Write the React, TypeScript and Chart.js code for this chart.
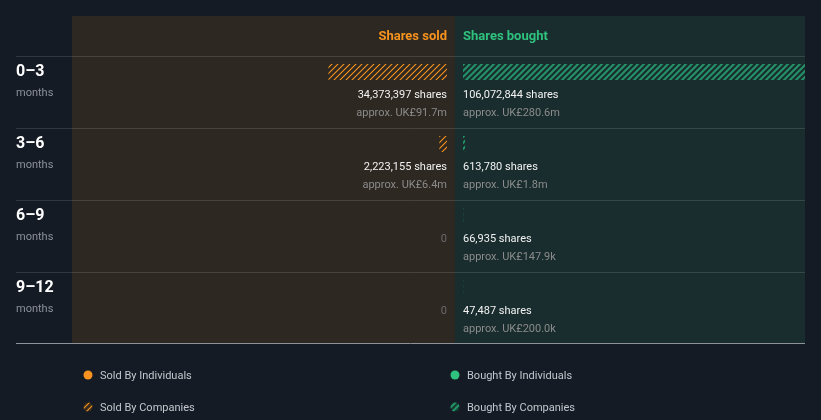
import React, { useEffect, useRef } from 'react';
import { Chart, registerables } from 'chart.js';

Chart.register(...registerables);

// ---- data ----
const periods = ['0–3', '3–6', '6–9', '9–12'];
const periodUnit = 'months';
const soldByIndividuals = [0, 0, 0, 0];
const soldByCompanies = [34373397, 2223155, 0, 0];
const boughtByIndividuals = [0, 0, 0, 0];
const boughtByCompanies = [106072844, 613780, 66935, 47487];
const soldValueGBP = [91.7e6, 6.4e6, 0, 0];
const boughtValueGBP = [280.6e6, 1.8e6, 147.9e3, 200.0e3];
const headerSold = 'Shares sold';
const headerBought = 'Shares bought';
const legendSoldInd = 'Sold By Individuals';
const legendSoldCo = 'Sold By Companies';
const legendBoughtInd = 'Bought By Individuals';
const legendBoughtCo = 'Bought By Companies';

// ---- style ----
const BG = '#151b25';
const SOLD_PANEL = '#2d2822';
const BOUGHT_PANEL = '#1a2d2e';
const ORANGE = '#f7931e';
const GREEN = '#2ec27e';
const GREEN_HATCH = '#239468';
const FONT = 'Roboto, "Noto Sans", sans-serif';

const LEFT_W = 383; // sold panel width
const RIGHT_W = 350; // bought panel width (visible part)
const GAP = 8; // gap between panel divide and bar base
const FULL = 366; // px for the largest value
const BAR_H = 16;

function fmtShares(v: number) {
  return v.toLocaleString('en-US') + ' shares';
}
function fmtGBP(v: number) {
  if (v >= 1e6) return 'approx. UK£' + (v / 1e6).toFixed(1) + 'm';
  if (v >= 1e3) return 'approx. UK£' + (v / 1e3).toFixed(1) + 'k';
  return 'approx. UK£' + v.toFixed(0);
}

function makeHatch(color: string, lw: number) {
  const c = document.createElement('canvas');
  c.width = 6;
  c.height = 6;
  const g = c.getContext('2d')!;
  g.strokeStyle = color;
  g.lineWidth = lw;
  g.beginPath();
  g.moveTo(-1, 7);
  g.lineTo(7, -1);
  g.moveTo(-1, 1);
  g.lineTo(1, -1);
  g.moveTo(5, 7);
  g.lineTo(7, 5);
  g.stroke();
  return g.createPattern(c, 'repeat')!;
}

export default function App() {
  const ref = useRef<HTMLCanvasElement | null>(null);

  useEffect(() => {
    document.body.style.margin = '0';
    document.body.style.background = BG;
    const canvas = ref.current!;
    const ctx = canvas.getContext('2d')!;
    const orangeHatch = makeHatch(ORANGE, 1.1);
    const greenHatch = makeHatch(GREEN_HATCH, 2);

    const M = Math.max(
      ...soldByCompanies.map((v, i) => v + soldByIndividuals[i]),
      ...boughtByCompanies.map((v, i) => v + boughtByIndividuals[i])
    );
    const unit = M / FULL;

    const geom = (chart: any) => {
      const y = chart.scales.y;
      const rowH = y.getPixelForValue(1) - y.getPixelForValue(0);
      const rowTop = (i: number) => y.getPixelForValue(i) - BAR_H / 2 - 8;
      const top = rowTop(0) - 40;
      const bottom = rowTop(periods.length - 1) + rowH - 1;
      return { y, rowTop, top, bottom };
    };

    const decor = {
      id: 'decor',
      beforeDraw(chart: any) {
        const c = chart.ctx;
        const xs = chart.scales.xs;
        const xb = chart.scales.xb;
        const { rowTop, top, bottom } = geom(chart);
        c.save();
        c.fillStyle = BG;
        c.fillRect(0, 0, chart.width, chart.height);
        c.fillStyle = SOLD_PANEL;
        c.fillRect(xs.left, top, xs.right - xs.left, bottom - top);
        c.fillStyle = BOUGHT_PANEL;
        c.fillRect(xb.left, top, xb.right - xb.left, bottom - top);
        // separators
        c.strokeStyle = 'rgba(255,255,255,0.12)';
        c.lineWidth = 1;
        for (let i = 0; i < periods.length; i++) {
          const yy = Math.round(rowTop(i)) + 0.5;
          c.beginPath();
          c.moveTo(16, yy);
          c.lineTo(chart.chartArea.right, yy);
          c.stroke();
        }
        // headers
        c.textBaseline = 'middle';
        c.font = 'bold 13px ' + FONT;
        c.fillStyle = ORANGE;
        c.textAlign = 'right';
        c.fillText(headerSold, xs.getPixelForValue(0), top + 20.5);
        c.fillStyle = GREEN;
        c.textAlign = 'left';
        c.fillText(headerBought, xb.getPixelForValue(0), top + 20.5);
        // row labels
        periods.forEach((p, i) => {
          const t = rowTop(i);
          c.textAlign = 'left';
          c.font = 'bold 16px ' + FONT;
          c.fillStyle = '#ffffff';
          c.fillText(p, 16, t + 15.5);
          c.font = '11px ' + FONT;
          c.fillStyle = '#8d9198';
          c.fillText(periodUnit, 16, t + 37);
        });
        c.restore();
      },
      afterDatasetsDraw(chart: any) {
        const c = chart.ctx;
        const { y } = geom(chart);
        const xs = chart.scales.xs;
        const xb = chart.scales.xb;
        const sx = xs.getPixelForValue(0);
        const bx = xb.getPixelForValue(0);
        c.save();
        c.textBaseline = 'middle';
        c.font = '11px ' + FONT;
        periods.forEach((_, i) => {
          const cy = y.getPixelForValue(i);
          const sold = soldByCompanies[i] + soldByIndividuals[i];
          const bought = boughtByCompanies[i] + boughtByIndividuals[i];
          c.textAlign = 'right';
          if (sold > 0) {
            c.fillStyle = '#f2f2f2';
            c.fillText(fmtShares(sold), sx, cy + 23);
            c.fillStyle = '#8b8b8b';
            c.fillText(fmtGBP(soldValueGBP[i]), sx, cy + 41);
          } else {
            c.fillStyle = '#6b6b6b';
            c.fillText('0', sx, cy + 23);
          }
          c.textAlign = 'left';
          if (bought > 0) {
            c.fillStyle = '#f2f2f2';
            c.fillText(fmtShares(bought), bx, cy + 23);
            c.fillStyle = '#8b8b8b';
            c.fillText(fmtGBP(boughtValueGBP[i]), bx, cy + 41);
          } else {
            c.fillStyle = '#6b6b6b';
            c.fillText('0', bx, cy + 23);
          }
        });
        c.restore();
      },
      afterDraw(chart: any) {
        const c = chart.ctx;
        const xs = chart.scales.xs;
        const xb = chart.scales.xb;
        const { bottom } = geom(chart);
        c.save();
        // clean area below the panels
        c.fillStyle = BG;
        c.fillRect(0, Math.round(bottom), chart.width, chart.height - Math.round(bottom));
        c.strokeStyle = '#8e939b';
        c.lineWidth = 1;
        c.beginPath();
        c.moveTo(16, Math.round(bottom) + 0.5);
        c.lineTo(chart.chartArea.right, Math.round(bottom) + 0.5);
        c.stroke();
        // legend
        const ly1 = bottom + 33;
        const ly2 = bottom + 65;
        const lx1 = xs.left + 16;
        const lx2 = xb.left;
        const dot = (x: number, yy: number, fill: any, ring: string | null) => {
          c.beginPath();
          c.arc(x, yy - 1, 4.5, 0, Math.PI * 2);
          if (ring) {
            c.fillStyle = ring;
            c.fill();
          }
          c.fillStyle = fill;
          c.fill();
        };
        dot(lx1, ly1, ORANGE, null);
        dot(lx2, ly1, GREEN, null);
        dot(lx1, ly2, orangeHatch, '#3a2c1c');
        dot(lx2, ly2, greenHatch, '#173a30');
        c.font = '11px ' + FONT;
        c.textBaseline = 'middle';
        c.fillStyle = '#c3c7cd';
        c.textAlign = 'left';
        c.fillText(legendSoldInd, lx1 + 12, ly1);
        c.fillText(legendBoughtInd, lx2 + 12, ly1);
        c.fillText(legendSoldCo, lx1 + 12, ly2);
        c.fillText(legendBoughtCo, lx2 + 12, ly2);
        c.restore();
      },
    };

    const common = { barThickness: BAR_H, borderWidth: 0, inflateAmount: 0, yAxisID: 'y' };
    const chart = new Chart(ctx, {
      type: 'bar',
      data: {
        labels: periods,
        datasets: [
          { ...common, label: legendSoldInd, data: soldByIndividuals, xAxisID: 'xs', backgroundColor: ORANGE },
          { ...common, label: legendSoldCo, data: soldByCompanies, xAxisID: 'xs', backgroundColor: orangeHatch as any },
          { ...common, label: legendBoughtInd, data: boughtByIndividuals, xAxisID: 'xb', backgroundColor: GREEN },
          { ...common, label: legendBoughtCo, data: boughtByCompanies, xAxisID: 'xb', backgroundColor: greenHatch as any },
        ] as any,
      },
      options: {
        indexAxis: 'y',
        responsive: false,
        animation: false,
        events: [],
        layout: { padding: { left: 72, right: 16, top: 36, bottom: 96 } },
        plugins: { legend: { display: false }, tooltip: { enabled: false } },
        scales: {
          y: { type: 'category', stacked: true, display: false, offset: true },
          xs: {
            type: 'linear',
            position: 'bottom',
            stack: 'panels',
            stackWeight: LEFT_W,
            reverse: true,
            stacked: true,
            display: false,
            min: -GAP * unit,
            max: (LEFT_W - GAP) * unit,
          },
          xb: {
            type: 'linear',
            position: 'bottom',
            stack: 'panels',
            stackWeight: RIGHT_W,
            stacked: true,
            display: false,
            min: -GAP * unit,
            max: (RIGHT_W - GAP) * unit,
          },
        } as any,
      },
      plugins: [decor],
    });
    return () => chart.destroy();
  }, []);

  return (
    <div style={{ width: 821, height: 420, background: BG }}>
      <canvas ref={ref} width={821} height={420} style={{ display: 'block', width: 821, height: 420 }} />
    </div>
  );
}
